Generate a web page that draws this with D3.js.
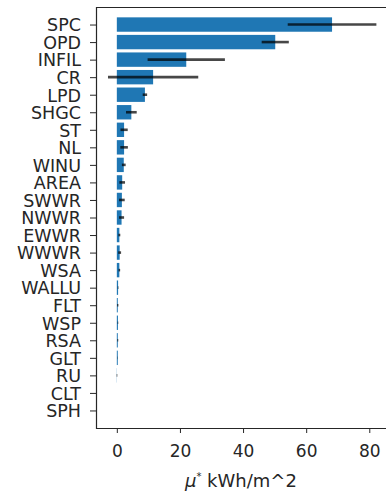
<!DOCTYPE html>
<html>
<head>
<meta charset="utf-8">
<script src="https://cdn.jsdelivr.net/npm/d3@7"></script>
<style>
  html, body { margin: 0; padding: 0; background: #fff; }
  svg { display: block; }
  text { font-family: "DejaVu Sans", sans-serif; fill: #262626; }
</style>
</head>
<body>
<svg id="chart" width="386" height="498"></svg>
<script>
// Morris screening: mean absolute elementary effect per input parameter
const parameters = ["SPC", "OPD", "INFIL", "CR", "LPD", "SHGC", "ST", "NL", "WINU", "AREA",
  "SWWR", "NWWR", "EWWR", "WWWR", "WSA", "WALLU", "FLT", "WSP", "RSA", "GLT", "RU", "CLT", "SPH"];
const muStar = [68.2, 50.2, 22.0, 11.5, 8.9, 4.6, 2.3, 2.3, 2.2, 1.7,
  1.6, 1.5, 0.8, 0.9, 0.8, 0.4, 0.3, 0.35, 0.3, 0.3, 0.05, 0, 0];
const muStarConf = [14.05, 4.3, 12.25, 14.3, 0.7, 1.7, 1.15, 1.2, 0.6, 0.9,
  0.9, 0.8, 0.3, 0.45, 0.25, 0.1, 0.2, 0.1, 0.15, 0.05, 0.1, 0, 0];
const xTicks = [0, 20, 40, 60, 80];

const svg = d3.select("#chart");

const x = d3.scaleLinear().domain([-6.6, 86.5]).range([96, 389.8]);
const y = d3.scaleLinear().domain([-1, parameters.length]).range([7, 428]);
const barH = (y(1) - y(0)) * 0.82;

const rows = parameters.map((p, i) => ({ p, i, v: muStar[i], e: muStarConf[i] }));

// bars
svg.append("g").selectAll("rect").data(rows).join("rect")
  .attr("x", d => x(0))
  .attr("y", d => y(d.i) - barH / 2)
  .attr("width", d => Math.max(0, x(d.v) - x(0)))
  .attr("height", barH)
  .attr("fill", "#1f77b4");

// confidence interval whiskers
svg.append("g").selectAll("line").data(rows.filter(d => d.e > 0)).join("line")
  .attr("x1", d => x(d.v - d.e))
  .attr("x2", d => x(d.v + d.e))
  .attr("y1", d => y(d.i))
  .attr("y2", d => y(d.i))
  .attr("stroke", "#000")
  .attr("stroke-opacity", 0.72)
  .attr("stroke-width", 2.6);

// left axis with parameter names
const yAxis = d3.axisLeft(y)
  .tickValues(d3.range(parameters.length))
  .tickFormat(i => parameters[i])
  .tickSize(6)
  .tickPadding(9);
const gy = svg.append("g").attr("transform", `translate(${x.range()[0]},0)`).call(yAxis);
gy.select(".domain").remove();
gy.selectAll("line").attr("stroke", "#262626");
gy.selectAll("text").style("font-size", "17.5px").attr("dy", "0.36em");

// bottom axis
const xAxis = d3.axisBottom(x).tickValues(xTicks).tickSize(5).tickPadding(12);
const gx = svg.append("g").attr("transform", `translate(0,${y.range()[1]})`).call(xAxis);
gx.select(".domain").remove();
gx.selectAll("line").attr("stroke", "#262626");
gx.selectAll("text").style("font-size", "17px");

// frame
const [x0, x1] = x.range();
const [y0, y1] = y.range();
svg.append("path")
  .attr("d", `M${x1},${y0 + 0.5}H${x0 + 0.5}V${y1 + 0.5}H${x1}`)
  .attr("fill", "none")
  .attr("stroke", "#262626")
  .attr("stroke-width", 1.2);

// axis title
const title = svg.append("text")
  .attr("x", (x0 + x1) / 2 - 2)
  .attr("y", 487)
  .attr("text-anchor", "middle")
  .style("font-size", "18px");
title.append("tspan").style("font-style", "italic").text("μ");
title.append("tspan").attr("dy", -7).style("font-size", "10px").text("*");
title.append("tspan").attr("dy", 7).text(" kWh/m^2");
</script>
</body>
</html>
